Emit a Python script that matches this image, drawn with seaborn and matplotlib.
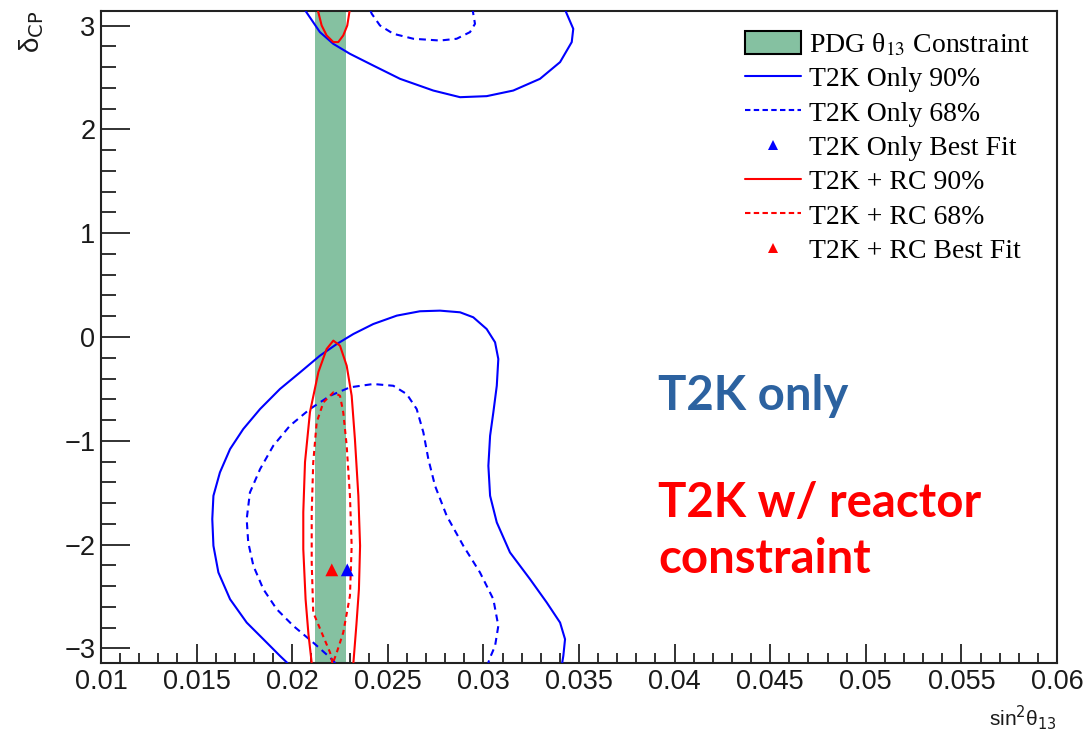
import numpy as np
import pandas as pd
import seaborn as sns
import matplotlib
matplotlib.use("Agg")
import matplotlib.pyplot as plt
from matplotlib.ticker import FixedLocator, MultipleLocator
from matplotlib.patches import Patch
from matplotlib.lines import Line2D

PI = np.pi

# ---------------- data ----------------
pdg_band = [0.02121, 0.02280]   # PDG theta13 constraint (sin^2 theta13)

# T2K only 90% (solid blue) – lower branch
t2k90_lo_x = [0.01975, 0.01936, 0.01849, 0.01762, 0.01675, 0.01614, 0.01588, 0.01582, 0.01588,
              0.01622, 0.01675, 0.01744, 0.01832, 0.01936, 0.02041, 0.02145, 0.02233,
              0.02320, 0.02424, 0.02547, 0.02668, 0.02773, 0.02878, 0.02947, 0.03017,
              0.03061, 0.03078, 0.03070, 0.03052, 0.03035, 0.03026, 0.03035, 0.03070,
              0.03139, 0.03244, 0.03331, 0.03401, 0.03427, 0.03418, 0.03412]
t2k90_lo_y = [-PI, -3.073, -2.912, -2.752, -2.527, -2.269, -2.012, -1.755, -1.530,
              -1.305, -1.080, -0.887, -0.694, -0.501, -0.341, -0.180, -0.068,
              0.029, 0.125, 0.206, 0.248, 0.254, 0.238, 0.190, 0.077,
              -0.051, -0.212, -0.470, -0.726, -0.952, -1.241, -1.530, -1.787,
              -2.076, -2.334, -2.558, -2.752, -2.912, -3.073, -PI]
# T2K only 90% – upper branch
t2k90_up_x = [0.02070, 0.02145, 0.02215, 0.02302, 0.02424, 0.02564, 0.02738, 0.02878,
              0.03017, 0.03156, 0.03296, 0.03401, 0.03462, 0.03470, 0.03436, 0.03430]
t2k90_up_y = [PI, 2.938, 2.825, 2.729, 2.616, 2.488, 2.375, 2.311,
              2.321, 2.375, 2.488, 2.649, 2.842, 2.970, 3.115, PI]

# T2K only 68% (dashed blue) – lower branch
t2k68_lo_x = [0.02225, 0.02198, 0.02110, 0.02006, 0.01919, 0.01849, 0.01797, 0.01770, 0.01762,
              0.01779, 0.01832, 0.01901, 0.01988, 0.02093, 0.02198, 0.02302, 0.02424,
              0.02529, 0.02599, 0.02651, 0.02686, 0.02712, 0.02747, 0.02808, 0.02895,
              0.02982, 0.03052, 0.03078, 0.03061, 0.03035, 0.03025]
t2k68_lo_y = [-PI, -3.089, -2.945, -2.784, -2.623, -2.430, -2.205, -1.980, -1.755,
              -1.498, -1.273, -1.048, -0.855, -0.694, -0.566, -0.485, -0.453,
              -0.470, -0.550, -0.694, -0.919, -1.176, -1.434, -1.723, -2.012,
              -2.269, -2.527, -2.784, -2.977, -3.089, -PI]
# T2K only 68% – upper branch
t2k68_up_x = [0.02410, 0.02416, 0.02459, 0.02529, 0.02634, 0.02773, 0.02860, 0.02930,
              0.02956, 0.02947, 0.02945]
t2k68_up_y = [PI, 3.115, 3.002, 2.922, 2.874, 2.857, 2.874, 2.938, 3.018, 3.115, PI]

# T2K + RC 90% (solid red) – lower branch
rc90_lo_x = [0.02102, 0.02085, 0.02070, 0.02058, 0.02058, 0.02067, 0.02093, 0.02137, 0.02180,
             0.02215, 0.02250, 0.02285, 0.02311, 0.02328, 0.02346, 0.02355, 0.02349,
             0.02336, 0.02320]
rc90_lo_y = [-PI, -2.864, -2.527, -2.044, -1.688, -1.205, -0.723, -0.338, -0.116,
             -0.035, -0.084, -0.277, -0.566, -0.984, -1.530, -2.012, -2.430,
             -2.768, -PI]
# T2K + RC 90% – upper branch
rc90_up_x = [0.02135, 0.02154, 0.02180, 0.02215, 0.02241, 0.02267, 0.02288, 0.02300]
rc90_up_y = [PI, 3.002, 2.906, 2.842, 2.842, 2.906, 3.002, PI]

# T2K + RC 68% (dashed red)
rc68_x = [0.02210, 0.02207, 0.02198, 0.02154, 0.02110, 0.02102, 0.02102, 0.02110, 0.02128,
          0.02163, 0.02215, 0.02250, 0.02267, 0.02285, 0.02302, 0.02311, 0.02302,
          0.02267, 0.02233, 0.02213]
rc68_y = [-PI, -3.105, -3.041, -2.848, -2.655, -2.173, -1.691, -1.209, -0.823,
          -0.630, -0.534, -0.566, -0.726, -1.048, -1.530, -2.012, -2.495,
          -2.848, -3.041, -PI]

# best fit points
bf_t2k = (0.02288, -2.244)
bf_rc = (0.02207, -2.244)

xtick_vals = [0.01, 0.015, 0.02, 0.025, 0.03, 0.035, 0.04, 0.045, 0.05, 0.055, 0.06]
xtick_labels = ["0.01", "0.015", "0.02", "0.025", "0.03", "0.035", "0.04",
                "0.045", "0.05", "0.055", "0.06"]
ytick_vals = [-3, -2, -1, 0, 1, 2, 3]
ytick_labels = ["\u22123", "\u22122", "\u22121", "0", "1", "2", "3"]

legend_labels = ["PDG \u03b8$_{13}$ Constraint", "T2K Only 90%", "T2K Only 68%",
                 "T2K Only Best Fit", "T2K + RC 90%", "T2K + RC 68%", "T2K + RC Best Fit"]

# ---------------- styling ----------------
sns.set_style("ticks")
plt.rcParams["font.family"] = ["Liberation Sans", "DejaVu Sans"]

GREEN = "#85C1A1"
BLUE = "#0000FF"
RED = "#FF0000"
AX_COL = "#222222"

fig = plt.figure(figsize=(10.9, 7.36), dpi=100)
ax = fig.add_axes([101 / 1090, 1 - 663 / 736, 956 / 1090, 652 / 736])

ax.axvspan(pdg_band[0], pdg_band[1], color=GREEN, lw=0, zorder=1)

blue_dash = (0, (3.3, 2.4))
red_dash = (0, (2.4, 2.0))

def draw(xs, ys, color, ls, lw=1.5, z=3):
    sns.lineplot(x=xs, y=ys, sort=False, estimator=None, color=color, lw=lw,
                 linestyle=ls, ax=ax, zorder=z)

draw(t2k90_lo_x, t2k90_lo_y, BLUE, "-")
draw(t2k90_up_x, t2k90_up_y, BLUE, "-")
draw(t2k68_lo_x, t2k68_lo_y, BLUE, blue_dash)
draw(t2k68_up_x, t2k68_up_y, BLUE, blue_dash)
draw(rc90_lo_x, rc90_lo_y, RED, "-")
draw(rc90_up_x, rc90_up_y, RED, "-")
draw(rc68_x, rc68_y, RED, red_dash)

sns.scatterplot(x=[bf_rc[0]], y=[bf_rc[1]], marker="^", s=85, color=RED,
                edgecolor="none", ax=ax, zorder=5)
sns.scatterplot(x=[bf_t2k[0]], y=[bf_t2k[1]], marker="^", s=85, color=BLUE,
                edgecolor="none", ax=ax, zorder=5)

ax.set_xlim(0.01, 0.06)
ax.set_ylim(-PI, PI)

ax.xaxis.set_major_locator(FixedLocator(xtick_vals))
ax.set_xticklabels(xtick_labels)
ax.xaxis.set_minor_locator(MultipleLocator(0.001))
ax.yaxis.set_major_locator(FixedLocator(ytick_vals))
ax.set_yticklabels(ytick_labels)
ax.yaxis.set_minor_locator(MultipleLocator(0.2))

ax.tick_params(axis="both", which="both", direction="in", top=False, right=False,
               color=AX_COL, width=1.3, labelcolor="#1a1a1a", labelsize=19.5)
ax.tick_params(axis="x", which="major", length=13.7, pad=4.5)
ax.tick_params(axis="x", which="minor", length=7.2)
ax.tick_params(axis="y", which="major", length=21, pad=4)
ax.tick_params(axis="y", which="minor", length=10.8)

for sp in ax.spines.values():
    sp.set_visible(True)
    sp.set_linewidth(1.5)
    sp.set_color(AX_COL)

ax.set_xlabel("sin$^{2}$\u03b8$_{13}$", fontsize=15, color="#1a1a1a",
              math_fontfamily="dejavusans")
ax.xaxis.set_label_coords(1.0, -0.062)
ax.xaxis.label.set_ha("right")
ax.set_ylabel("\u03b4$_{\\mathrm{CP}}$", fontsize=20, color="#1a1a1a",
              math_fontfamily="dejavusans")
ax.yaxis.set_label_coords(-0.058, 1.0)
ax.yaxis.label.set_ha("right")

# legend
handles = [
    Patch(facecolor=GREEN, edgecolor="black", linewidth=1.5),
    Line2D([], [], color=BLUE, lw=1.5),
    Line2D([], [], color=BLUE, lw=1.5, linestyle=(0, (2.6, 1.6))),
    Line2D([], [], color=BLUE, lw=0, marker="^", markersize=7, markeredgewidth=0),
    Line2D([], [], color=RED, lw=1.5),
    Line2D([], [], color=RED, lw=1.5, linestyle=(0, (2.6, 1.6))),
    Line2D([], [], color=RED, lw=0, marker="^", markersize=7, markeredgewidth=0),
]
leg = fig.legend(handles, legend_labels, loc="upper left",
                 bbox_to_anchor=(745 / 1090, 1 - 31 / 736), bbox_transform=fig.transFigure,
                 frameon=False, borderpad=0, borderaxespad=0, handlelength=2.0,
                 handleheight=0.9, handletextpad=0.3, labelspacing=0.26,
                 prop={"family": ["Liberation Serif", "DejaVu Serif"], "size": 20})
for t in leg.get_texts():
    t.set_math_fontfamily("stix")
    t.set_color("black")

# annotations
fig.text(658 / 1090, 1 - 410 / 736, "T2K only", family=["Lato", "DejaVu Sans"],
         weight="bold", fontsize=34, color="#2C62A0", va="baseline", ha="left")
fig.text(658 / 1090, 1 - 517 / 736, "T2K w/ reactor", family=["Lato", "DejaVu Sans"],
         weight="bold", fontsize=34, color=RED, va="baseline", ha="left")
fig.text(658 / 1090, 1 - 573 / 736, "constraint", family=["Lato", "DejaVu Sans"],
         weight="bold", fontsize=34, color=RED, va="baseline", ha="left")

fig.savefig("out.png", dpi=100)
